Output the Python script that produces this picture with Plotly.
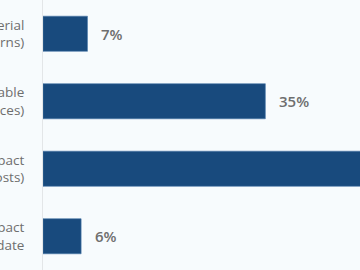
import plotly.graph_objects as go

categories = [
    "Immaterial<br>(No effect on returns)",
    "Manageable<br>(Passed on in prices)",
    "Significant impact<br>(Higher input costs)",
    "No impact<br>to date",
]
values = [7, 35, 52, 6]
value_labels = ["7%", "35%", "52%", "6%"]

bar_color = "#184a7d"
bg = "#f7fbfd"
text_grey = "#6e6e6e"

fig = go.Figure()
fig.add_trace(go.Bar(
    y=categories,
    x=values,
    orientation="h",
    width=0.52,
    marker=dict(color=bar_color, line=dict(color="#4a78a8", width=0.6)),
    hoverinfo="skip",
))

for cat, v, lab in zip(categories, values, value_labels):
    fig.add_annotation(
        x=v, y=cat, text=lab, showarrow=False,
        xanchor="left", xshift=12,
        font=dict(family="Open Sans", size=15, color=text_grey, weight=600),
    )

fig.update_layout(
    width=360, height=270,
    margin=dict(l=43, r=0, t=0, b=0, pad=0),
    paper_bgcolor=bg, plot_bgcolor=bg,
    showlegend=False,
    xaxis=dict(range=[0, 49.9], visible=False, fixedrange=True),
    yaxis=dict(
        autorange=False, range=[3.5, -0.5],
        automargin=False,
        showline=True, linecolor="#e3e6e8", linewidth=1,
        showgrid=False, zeroline=False,
        ticks="", ticklabelstandoff=15,
        tickfont=dict(family="Open Sans", size=13.5, color=text_grey),
    ),
)

fig.write_html("out.html")
